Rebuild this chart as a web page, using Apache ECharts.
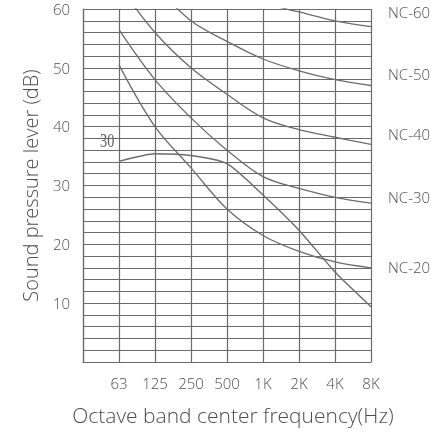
<!DOCTYPE html>
<html>
<head>
<meta charset="utf-8">
<script src="https://cdn.jsdelivr.net/npm/echarts@6/dist/echarts.min.js"></script>
<style>
html,body{margin:0;padding:0;background:#fff;}
#c{width:431px;height:434px;}
</style>
</head>
<body>
<div id="c"></div>
<script>
// Octave band categories (first position = left plot edge, unlabeled)
var categories = ['', '63', '125', '250', '500', '1K', '2K', '4K', '8K'];
// NC curves (dB), values from 63 Hz to 8 kHz
var nc60 = [77, 71, 67, 63, 61, 59.5, 58, 57];
var nc50 = [71, 64, 58, 54.5, 51.5, 49.5, 48, 47];
var nc40 = [64, 56, 50, 45.5, 41.5, 39.5, 38.2, 37];
var nc30 = [56.5, 48, 41.5, 36, 31.5, 29.5, 28, 27];
var nc20 = [50.5, 40, 33, 26, 21.5, 18.8, 17, 16];
// Measured spectrum (hand-drawn curve labelled "30")
var measured = [34.1, 35.4, 35.1, 33.7, 28.4, 22.4, 15.3, 9.4];
var ncNames = ['NC-60', 'NC-50', 'NC-40', 'NC-30', 'NC-20'];
var yTicks = [10, 20, 30, 40, 50, 60];
var xTitle = 'Octave band center frequency(Hz)';
var yTitle = 'Sound pressure lever (dB)';

function pad(arr) { return [null].concat(arr); }

var font = "'Open Sans', 'DejaVu Sans', sans-serif";
var textColor = '#4e4e4e';
var gridColor = '#6a6a6a';
var curveColor = '#6c6c6c';

var chart = echarts.init(document.getElementById('c'), null, {renderer: 'canvas'});

function ncSeries(name, data) {
  return {
    name: name, type: 'line', data: pad(data), smooth: 0.35,
    symbol: 'none', clip: true,
    lineStyle: {color: curveColor, width: 1.3},
    z: 3
  };
}

var labelY = [15, 77, 137, 200, 270];
var graphics = ncNames.map(function (n, i) {
  return {
    type: 'text', left: 388, top: labelY[i] - 9,
    style: {text: n, fill: textColor, font: '300 15px ' + font}
  };
});
graphics.push({
  type: 'text', left: 100, top: 133, scaleX: 0.75,
  style: {text: '30', fill: '#5a5a5a', font: '19px "Liberation Serif", serif'}
});
graphics.push({
  type: 'text', x: 233, y: 417,
  style: {text: xTitle, fill: textColor, font: '300 21px ' + font,
          align: 'center', verticalAlign: 'middle'}
});

chart.setOption({
  animation: false,
  backgroundColor: '#ffffff',
  grid: {left: 83, right: 60, top: 9, bottom: 72},
  xAxis: {
    type: 'category', data: categories, boundaryGap: false,
    axisLine: {show: true, lineStyle: {color: gridColor, width: 1}},
    axisTick: {show: false},
    axisLabel: {color: textColor, fontSize: 15, fontFamily: font, fontWeight: 300, margin: 15, interval: 0},
    splitLine: {show: true, interval: 0, lineStyle: {color: gridColor, width: 1.2}}
  },
  yAxis: {
    type: 'value', min: 0, max: 60, interval: 2,
    name: yTitle, nameLocation: 'middle', nameGap: 40,
    nameTextStyle: {color: textColor, fontSize: 20, fontFamily: font, fontWeight: 300},
    axisLine: {show: true, lineStyle: {color: gridColor, width: 1.2}},
    axisTick: {show: false},
    axisLabel: {
      color: textColor, fontSize: 15, fontFamily: font, fontWeight: 300, margin: 13,
      verticalAlign: 'top', lineHeight: 3,
      formatter: function (v) { return yTicks.indexOf(v) >= 0 ? String(v) : ''; }
    },
    splitLine: {show: true, lineStyle: {color: gridColor, width: 1.1}}
  },
  graphic: graphics,
  series: [
    ncSeries('NC-60', nc60),
    ncSeries('NC-50', nc50),
    ncSeries('NC-40', nc40),
    ncSeries('NC-30', nc30),
    ncSeries('NC-20', nc20),
    {
      name: 'Measured', type: 'line', data: pad(measured), smooth: 0.2,
      symbol: 'none', clip: true,
      lineStyle: {color: curveColor, width: 1.4}, z: 4
    }
  ]
});
</script>
</body>
</html>
